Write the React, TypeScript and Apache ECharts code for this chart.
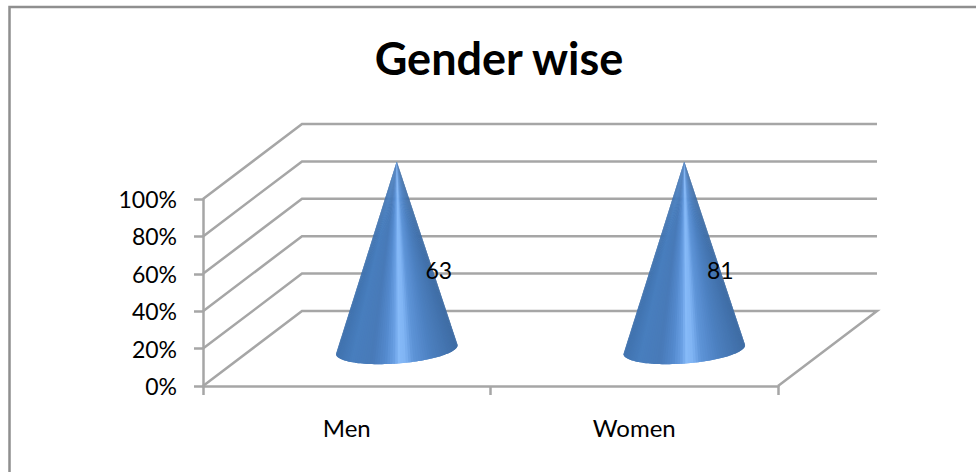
import React, { useEffect, useRef } from "react";
import * as echarts from "echarts";

const TITLE = "Gender wise";
const categories = ["Men", "Women"];
const counts = [63, 81];
const yTicks = [0, 20, 40, 60, 80, 100];

const FONT = "Lato, 'Open Sans', sans-serif";
const GRID_COLOR = "#a6a6a6";
const DEPTH_X = 99;
const DEPTH_Y = -75;
const LABEL_SHIFT_X = [42, 36];

// [position across the cone, -1 left edge .. 1 right edge; colour]
const shadeStops: [number, number[]][] = [
  [-1, [64, 114, 174]],
  [-0.75, [72, 126, 190]],
  [-0.42, [72, 122, 184]],
  [-0.2, [84, 138, 206]],
  [-0.06, [106, 160, 228]],
  [0.02, [134, 186, 248]],
  [0.12, [128, 180, 244]],
  [0.26, [94, 148, 216]],
  [0.55, [76, 128, 192]],
  [1, [62, 108, 164]],
];

function shade(s: number): string {
  for (let i = 1; i < shadeStops.length; i++) {
    const [s1, c1] = shadeStops[i];
    const [s0, c0] = shadeStops[i - 1];
    if (s <= s1) {
      const k = (s - s0) / (s1 - s0);
      const c = c0.map((v, j) => Math.round(v + (c1[j] - v) * k));
      return `rgb(${c[0]},${c[1]},${c[2]})`;
    }
  }
  const c = shadeStops[shadeStops.length - 1][1];
  return `rgb(${c[0]},${c[1]},${c[2]})`;
}

function renderWall(_: any, api: any) {
  const v = api.value(0);
  const lastIdx = categories.length - 1;
  const sz = api.size([1, 0]);
  const front = api.coord([0, v]);
  const frontLeft = [front[0] - sz[0] / 2, front[1]];
  const frontRight = [front[0] + sz[0] * (lastIdx + 0.5), front[1]];
  const backLeft = [frontLeft[0] + DEPTH_X, frontLeft[1] + DEPTH_Y];
  const backRight = [frontRight[0] + DEPTH_X, frontRight[1] + DEPTH_Y];
  const points = v === 0 ? [frontLeft, backLeft, backRight, frontRight] : [frontLeft, backLeft, backRight];
  return {
    type: "polyline",
    shape: { points },
    style: { stroke: GRID_COLOR, lineWidth: 2.5, fill: "none" },
    silent: true,
  };
}

function renderCone(_: any, api: any) {
  const idx = api.value(0);
  const top = api.value(1);
  const count = api.value(2);
  const a0 = api.coord([idx, 0]);
  const a1 = api.coord([idx, top]);
  const cx = a0[0] + DEPTH_X / 2 + 0.5;
  const cy = a0[1] + DEPTH_Y / 2 + 1;
  const apex = [a1[0] + DEPTH_X / 2 + 0.5, a1[1] + DEPTH_Y / 2];
  const semiA = 61;
  const semiB = 14;
  const theta = (-4.3 * Math.PI) / 180;
  const pt = (t: number) => [
    cx + semiA * Math.cos(t) * Math.cos(theta) - semiB * Math.sin(t) * Math.sin(theta),
    cy + semiA * Math.cos(t) * Math.sin(theta) + semiB * Math.sin(t) * Math.cos(theta),
  ];
  const N = 72;
  const children: any[] = [];
  for (let i = 0; i < N; i++) {
    const t0 = Math.PI - (Math.PI * i) / N;
    const t1 = Math.PI - (Math.PI * (i + 1)) / N;
    const t2 = Math.PI - (Math.PI * Math.min(i + 2, N)) / N;
    const color = shade(Math.cos((t0 + t1) / 2));
    children.push({
      type: "polygon",
      shape: { points: [apex, pt(t0), pt(t1), pt(t2)] },
      style: { fill: color },
      silent: true,
    });
  }
  children.push({
    type: "text",
    x: cx + LABEL_SHIFT_X[idx],
    y: cy - 80,
    style: {
      text: String(count),
      fontFamily: FONT,
      fontSize: 23,
      fill: "#000",
      align: "center",
      verticalAlign: "middle",
    },
    silent: true,
  });
  return { type: "group", children };
}

export default function App() {
  const ref = useRef<HTMLDivElement>(null);
  useEffect(() => {
    const chart = echarts.init(ref.current!, undefined, { renderer: "svg" });
    chart.setOption({
      animation: false,
      backgroundColor: "#fff",
      title: {
        text: TITLE,
        left: 494,
        top: 30,
        textAlign: "center",
        textStyle: { fontFamily: FONT, fontWeight: "bold", fontSize: 45, color: "#000" },
      },
      grid: { left: 203, right: 198, top: 199, bottom: 86 },
      xAxis: {
        type: "category",
        data: categories,
        boundaryGap: true,
        axisLine: { lineStyle: { color: GRID_COLOR, width: 2.5 } },
        axisTick: { show: true, length: 9, lineStyle: { color: GRID_COLOR, width: 2.5 } },
        axisLabel: { fontFamily: FONT, fontSize: 24, color: "#000", margin: 29 },
        splitLine: { show: false },
      },
      yAxis: {
        type: "value",
        min: 0,
        max: 100,
        interval: 20,
        axisLine: { show: true, lineStyle: { color: GRID_COLOR, width: 2.5 } },
        axisTick: { show: true, length: 9, lineStyle: { color: GRID_COLOR, width: 2.5 } },
        axisLabel: { fontFamily: FONT, fontSize: 23, color: "#000", margin: 26, formatter: "{value}%" },
        splitLine: { show: false },
      },
      graphic: [
        {
          type: "rect",
          shape: { x: 9.5, y: 7, width: 1200, height: 800 },
          style: { fill: "none", stroke: "#8f8f8f", lineWidth: 2.5 },
          silent: true,
          z: -1,
        },
      ],
      series: [
        {
          type: "custom",
          name: "walls",
          silent: true,
          renderItem: renderWall,
          encode: { y: 0 },
          data: yTicks.map((v) => [v]),
          z: 1,
        },
        {
          type: "custom",
          name: "cones",
          silent: true,
          renderItem: renderCone,
          encode: { x: 0, y: 1 },
          // every column is a 100% stack: one series fills its whole column
          data: categories.map((_, i) => [i, (counts[i] / counts[i]) * 100, counts[i]]),
          z: 2,
        },
      ],
    });
    return () => chart.dispose();
  }, []);
  return <div ref={ref} style={{ position: "absolute", left: 0, top: 0, width: 976, height: 472 }} />;
}
